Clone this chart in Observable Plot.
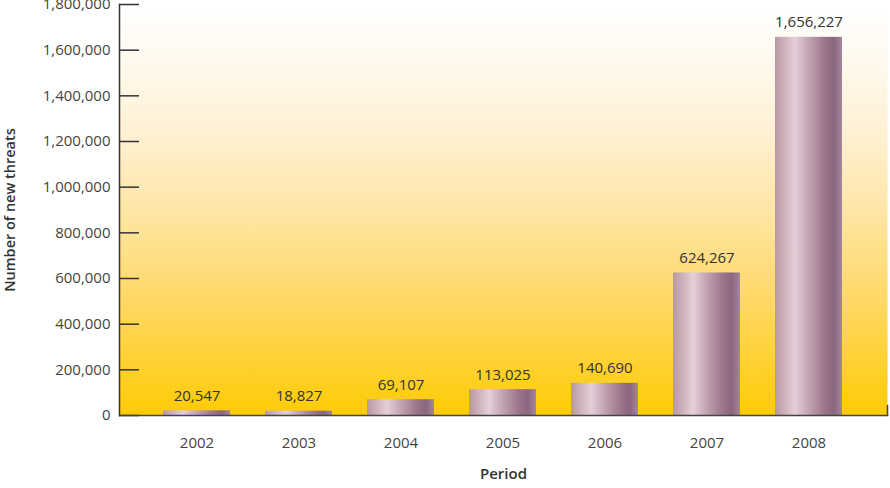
<!DOCTYPE html>
<html>
<head>
<meta charset="utf-8">
<script src="https://cdn.jsdelivr.net/npm/d3@7"></script>
<script src="https://cdn.jsdelivr.net/npm/@observablehq/plot@0.6"></script>
<style>
  html, body { margin: 0; padding: 0; background: #fff; }
  #chart svg { display: block; font-family: "Open Sans", "Noto Sans", sans-serif; }
</style>
</head>
<body>
<div id="chart"></div>
<script>
const periods = ["2002", "2003", "2004", "2005", "2006", "2007", "2008"];
const threats = [20547, 18827, 69107, 113025, 140690, 624267, 1656227];
const yTicks = [0, 200000, 400000, 600000, 800000, 1000000, 1200000, 1400000, 1600000, 1800000];
const xTitle = "Period";
const yTitle = "Number of new threats";

const data = periods.map((p, i) => ({period: p, value: threats[i]}));
const fmt = d3.format(",");

const plot = Plot.plot({
  width: 890,
  height: 488,
  marginTop: 4,
  marginBottom: 73,
  marginLeft: 119,
  marginRight: 3,
  style: {fontFamily: "'Open Sans', 'Noto Sans', sans-serif", fontSize: "15px", color: "#3a3a3a"},
  x: {domain: periods, paddingInner: 0.34, paddingOuter: 0.4},
  y: {domain: [0, 1800000]},
  marks: [
    Plot.frame({fill: "url(#bgGrad)", stroke: null}),
    Plot.barY(data, {x: "period", y: "value", fill: "url(#barGrad)"}),
    Plot.text(data, {x: "period", y: "value", text: d => fmt(d.value), lineAnchor: "bottom", dy: -10, fill: "#333", fontSize: 15}),
    Plot.axisY({ticks: yTicks, tickFormat: fmt, tickSize: -20, tickPadding: 29, stroke: "#333", strokeWidth: 1.5, fill: "#444", fontSize: 15, label: null}),
    Plot.axisX({tickSize: 0, tickPadding: 22, fill: "#444", fontSize: 15, label: null}),
    Plot.frame({anchor: "left", stroke: "#333", strokeWidth: 1.5}),
    Plot.frame({anchor: "bottom", stroke: "#444", strokeWidth: 1.5}),
    Plot.vector([0], {frameAnchor: "bottom-right", length: 10, anchor: "start", stroke: "#444", strokeWidth: 1.5,
      shape: {draw(ctx, l) { ctx.moveTo(0, 0); ctx.lineTo(0, -l); }}}),
    Plot.text([xTitle], {frameAnchor: "bottom", dy: 59, lineAnchor: "middle", textAnchor: "middle", text: d => d, fontWeight: 600, fontSize: 15, fill: "#333"}),
    Plot.text([yTitle], {frameAnchor: "left", dx: -109, rotate: -90, textAnchor: "middle", lineAnchor: "middle", text: d => d, fontWeight: 600, fontSize: 14.5, fill: "#333"})
  ]
});

const svg = d3.select(plot);
const defs = svg.insert("defs", ":first-child");
const bg = defs.append("linearGradient").attr("id", "bgGrad").attr("x1", 0).attr("y1", 0).attr("x2", 0).attr("y2", 1);
[[0, "#ffffff"], [0.12, "#fffaf0"], [0.3, "#fff1d6"], [0.5, "#fee6a6"], [0.72, "#ffd866"], [1, "#ffcb05"]]
  .forEach(([o, c]) => bg.append("stop").attr("offset", o).attr("stop-color", c));
const bar = defs.append("linearGradient").attr("id", "barGrad").attr("x1", 0).attr("y1", 0).attr("x2", 1).attr("y2", 0);
[[0, "#b9979f"], [0.1, "#c7a9b6"], [0.3, "#e4d0d9"], [0.5, "#c3a3b3"], [0.75, "#9a7489"], [0.88, "#8c6680"], [1, "#a4879a"]]
  .forEach(([o, c]) => bar.append("stop").attr("offset", o).attr("stop-color", c));

document.getElementById("chart").appendChild(plot);
</script>
</body>
</html>
